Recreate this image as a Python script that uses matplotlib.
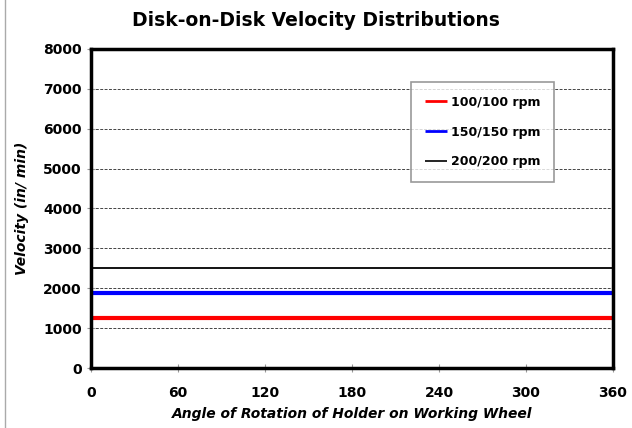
import matplotlib
matplotlib.use("Agg")
import matplotlib.pyplot as plt
import numpy as np

angles = [0, 360]
series_labels = ["100/100 rpm", "150/150 rpm", "200/200 rpm"]
series_values = [1257, 1885, 2513]
series_colors = ["#ff0000", "#0000ff", "#000000"]
series_widths = [3, 3, 1.3]
x_ticks = [0, 60, 120, 180, 240, 300, 360]
y_ticks = [0, 1000, 2000, 3000, 4000, 5000, 6000, 7000, 8000]

fig = plt.figure(figsize=(6.32, 4.28), dpi=100)
ax = fig.add_axes([91/632, 1-368/428, (613-91)/632, (368-49)/428])

for lab, v, c, w in zip(series_labels, series_values, series_colors, series_widths):
    ax.plot(angles, [v, v], color=c, lw=w, label=lab, solid_capstyle='butt')

ax.set_xlim(0, 360)
ax.set_ylim(0, 8000)
ax.set_xticks(x_ticks)
ax.set_yticks(y_ticks)
ax.yaxis.grid(True, linestyle=(0, (3, 1.5)), color="#444444", lw=0.7)
ax.set_axisbelow(True)
for s in ax.spines.values():
    s.set_linewidth(2.5)
    s.set_color("black")
ax.tick_params(axis='both', direction='inout', length=6, width=0.8, color="#999999",
               labelsize=10)
ax.tick_params(axis='x', pad=10)
for t in ax.get_xticklabels() + ax.get_yticklabels():
    t.set_fontweight('bold')

ax.set_xlabel("Angle of Rotation of Holder on Working Wheel", fontsize=10,
              fontweight='bold', style='italic', labelpad=5)
ax.set_ylabel("Velocity (in/ min)", fontsize=10, fontweight='bold', style='italic', labelpad=10)
fig.text(0.5, 1-20/428, "Disk-on-Disk Velocity Distributions", ha='center', va='center',
         fontsize=13.5, fontweight='heavy')

leg = ax.legend(loc='upper left', bbox_to_anchor=((411-91)/522, 1-(82-49)/319),
                borderaxespad=0, frameon=True, fancybox=False, borderpad=1.1,
                labelspacing=1.35, handlelength=1.8, handletextpad=0.3,
                prop={'weight': 'bold', 'size': 9})
leg.get_frame().set_edgecolor("#808080")
leg.get_frame().set_linewidth(1.2)
for h, w in zip(leg.get_lines(), [2, 2, 1.2]):
    h.set_linewidth(w)

fig.add_artist(plt.Line2D([5/632, 5/632], [0, 1], color="#aaaaaa", lw=1, transform=fig.transFigure))

fig.savefig("out.png", dpi=100)
